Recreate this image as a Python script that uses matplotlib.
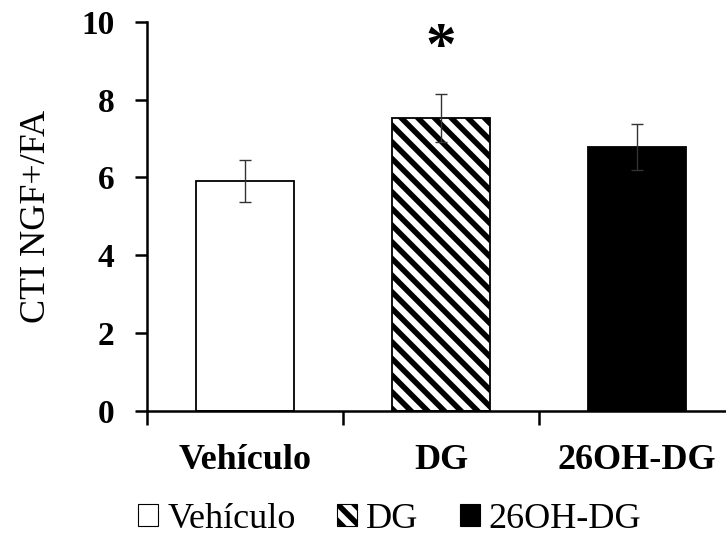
import matplotlib
matplotlib.use("Agg")
import matplotlib.pyplot as plt
from matplotlib.patches import Patch

# datos
grupos = ["Vehículo", "DG", "26OH-DG"]
medias = [5.9, 7.52, 6.78]
errores = [0.54, 0.61, 0.6]
rellenos = ["white", "white", "black"]
tramas = ["", "\\\\", ""]

plt.rcParams["font.family"] = ["Liberation Serif", "DejaVu Serif"]
plt.rcParams["hatch.linewidth"] = 4.0

fig = plt.figure(figsize=(7.26, 5.38), dpi=100)
ax = fig.add_axes([0.2025, 0.2366, 0.81, 0.723])

x = list(range(len(grupos)))
for i in x:
    ax.bar(i, medias[i], width=0.5, color=rellenos[i], edgecolor="black",
           linewidth=1.3, hatch=tramas[i], zorder=2)
ax.errorbar(x, medias, yerr=errores, fmt="none", ecolor="#333333",
            elinewidth=1.0, capsize=4.3, capthick=1.0, zorder=3)

# asterisco sobre DG
ax.text(1, 9.3, "*", ha="center", va="center", fontsize=44, fontweight="bold")

ax.set_xlim(-0.5, 2.5)
ax.set_ylim(0, 10)
ax.set_yticks([0, 2, 4, 6, 8, 10])
ax.tick_params(axis="y", labelsize=24, width=1.8, length=8.5, pad=15)
for t in ax.get_yticklabels():
    t.set_fontweight("bold")

ax.set_xticks(x)
ax.set_xticklabels(grupos, fontsize=26, fontweight="bold")
ax.tick_params(axis="x", length=0, pad=24)
ax.set_xticks([-0.5, 0.5, 1.5, 2.5], minor=True)
ax.tick_params(axis="x", which="minor", length=10, width=1.8)

ax.set_ylabel("CTI NGF+/FA", fontsize=26, labelpad=20)

for s in ["top", "right"]:
    ax.spines[s].set_visible(False)
for s in ["left", "bottom"]:
    ax.spines[s].set_linewidth(1.8)

manejadores = [Patch(facecolor=rellenos[i], edgecolor="black", hatch=tramas[i],
                     linewidth=0.8, label=grupos[i]) for i in x]
fig.legend(handles=manejadores, loc="center", bbox_to_anchor=(0.537, 0.035),
           ncol=3, frameon=False, fontsize=26, handlelength=0.55,
           handleheight=0.55, handletextpad=0.25, columnspacing=1.15,
           borderpad=0.1)

fig.savefig("out.png", dpi=100)
